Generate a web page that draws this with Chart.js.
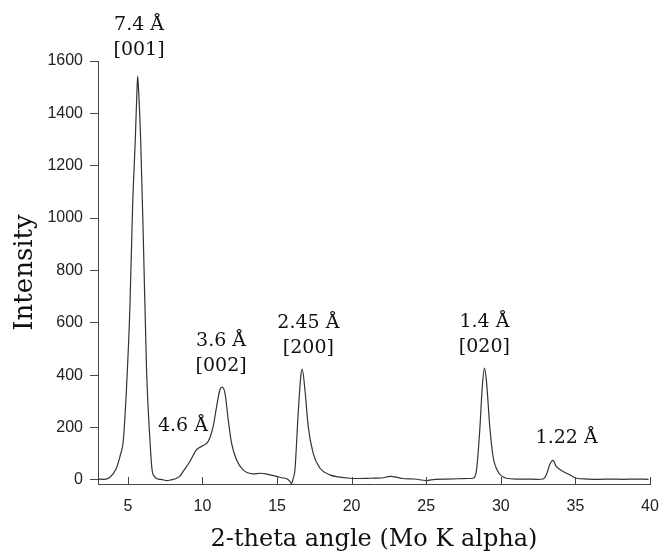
<!DOCTYPE html>
<html>
<head>
<meta charset="utf-8">
<script src="https://cdn.jsdelivr.net/npm/chart.js@4"></script>
<style>
  html, body { margin: 0; padding: 0; background: #fff; }
  #wrap { width: 660px; height: 558px; }
</style>
</head>
<body>
<div id="wrap"><canvas id="xrd" width="660" height="558"></canvas></div>
<script>
// diffraction trace
const twoTheta = [3.0, 3.4, 3.8, 4.2, 4.5, 4.7, 4.96, 5.14, 5.32, 5.5, 5.62, 5.66, 5.72, 5.86, 6.04, 6.26, 6.48, 6.62, 6.8, 6.95,
  7.3, 7.6, 7.9, 8.27, 8.5, 8.71, 9.16, 9.61, 10.05, 10.39, 10.72, 10.95, 11.17, 11.33, 11.51, 11.73, 11.95, 12.29, 12.73,
  13.4, 13.9, 14.3, 14.97, 15.3, 15.64, 15.85, 15.97, 16.08, 16.2, 16.42, 16.6, 16.69, 16.87, 17.09, 17.42, 17.87, 18.54,
  19.2, 19.88, 20.5, 21.3, 22.0, 22.6, 22.9, 23.4, 24.2, 25.0, 25.6, 26.4, 27.2, 27.8, 28.14, 28.36, 28.59, 28.76, 28.9,
  29.03, 29.26, 29.48, 29.81, 30.37, 31.0, 31.8, 32.4, 32.83, 33.05, 33.27, 33.5, 33.72, 34.17, 34.61, 35.06, 35.8, 36.6,
  37.4, 38.2, 39.0, 39.9]
const intensity = [3, 2, 10, 40, 95, 153, 408, 662, 1045, 1300, 1500, 1542, 1490, 1300, 917, 408, 153, 40, 12, 4,
  1, -3, 0, 6, 15, 32, 70, 115, 131, 147, 204, 280, 344, 354, 331, 229, 140, 76, 38,
  23, 25, 22, 13, 8, 4, -5, -15, 5, 38, 255, 400, 423, 344, 204, 102, 45, 19,
  10, 6, 5, 6, 7, 13, 11, 5, 3, -3, 2, 3, 4, 5, 6, 32, 191, 357, 427,
  382, 204, 89, 32, 6, 3, 3, 2, 3, 19, 57, 74, 51, 32, 19, 6, 3, 2,
  3, 2, 3, 2]

const xTicks = [5, 10, 15, 20, 25, 30, 35, 40]
const yTicks = [0, 200, 400, 600, 800, 1000, 1200, 1400, 1600]

// peak labels: text lines and where they sit in data units
const peakText = [["7.4 Å", "[001]"], ["4.6 Å"], ["3.6 Å", "[002]"], ["2.45 Å", "[200]"], ["1.4 Å", "[020]"], ["1.22 Å"]]
const peakX = [5.75, 8.69, 11.25, 17.1, 28.9, 34.41]
const peakY = [1737, 204, 529, 600, 601, 160]

const serif = "'DejaVu Serif', serif"
const sans = "'Liberation Sans', Arial, sans-serif"

const peakLabels = {
  id: "peakLabels",
  afterDatasetsDraw(chart) {
    let ctx = chart.ctx
    let xs = chart.scales.x
    let ys = chart.scales.y
    ctx.save()
    ctx.fillStyle = "#111"
    ctx.font = "19px " + serif
    ctx.textAlign = "center"
    ctx.textBaseline = "middle"
    peakText.forEach((lines, i) => {
      let px = xs.getPixelForValue(peakX[i])
      let py = ys.getPixelForValue(peakY[i])
      lines.forEach((t, j) => {
        ctx.fillText(t, px, py + j * 25)
      })
    })
    ctx.restore()
  }
}

// x ticks point into the plot
const innerTicks = {
  id: "innerTicks",
  afterDraw(chart) {
    let ctx = chart.ctx
    let xs = chart.scales.x
    let bottom = chart.chartArea.bottom
    ctx.save()
    ctx.strokeStyle = "#444"
    ctx.lineWidth = 1
    ctx.beginPath()
    xTicks.forEach(v => {
      let px = Math.round(xs.getPixelForValue(v)) + 0.5
      ctx.moveTo(px, bottom)
      ctx.lineTo(px, bottom - 7)
    })
    ctx.stroke()
    ctx.restore()
  }
}

let points = twoTheta.map((t, i) => ({ x: t, y: intensity[i] }))

new Chart(document.getElementById("xrd"), {
  type: "line",
  data: {
    datasets: [{
      data: points,
      borderColor: "#333",
      borderWidth: 1.2,
      pointRadius: 0,
      cubicInterpolationMode: "monotone",
      fill: false
    }]
  },
  options: {
    responsive: false,
    animation: false,
    layout: { padding: { top: 61, right: 10, left: 0, bottom: 0 } },
    plugins: { legend: { display: false }, tooltip: { enabled: false } },
    scales: {
      x: {
        type: "linear",
        min: 3,
        max: 40,
        afterBuildTicks: s => { s.ticks = xTicks.map(v => ({ value: v })) },
        afterFit: s => { s.height = 74; s.paddingLeft = 0; s.paddingRight = 0 },
        grid: { display: true, drawOnChartArea: false, drawTicks: false },
        border: { display: true, color: "#444", width: 1 },
        ticks: { font: { family: sans, size: 16 }, color: "#222", padding: 13, maxRotation: 0, callback: v => String(v) },
        title: {
          display: true,
          text: "2-theta angle (Mo K alpha)",
          font: { family: serif, size: 24 },
          color: "#111",
          padding: { top: 0, bottom: 4 }
        }
      },
      y: {
        min: -16,
        max: 1600,
        afterBuildTicks: s => { s.ticks = yTicks.map(v => ({ value: v })) },
        afterFit: s => { s.width = 98; s.paddingTop = 0; s.paddingBottom = 0 },
        grid: { display: true, drawOnChartArea: false, drawTicks: true, tickLength: 8, color: "#444" },
        border: { display: true, color: "#444", width: 1 },
        ticks: { font: { family: sans, size: 16 }, color: "#222", padding: 7, callback: v => String(v) },
        title: {
          display: true,
          text: "Intensity",
          font: { family: serif, size: 26 },
          color: "#111",
          padding: { top: 10, bottom: 0 }
        }
      }
    }
  },
  plugins: [peakLabels, innerTicks]
})
</script>
</body>
</html>
